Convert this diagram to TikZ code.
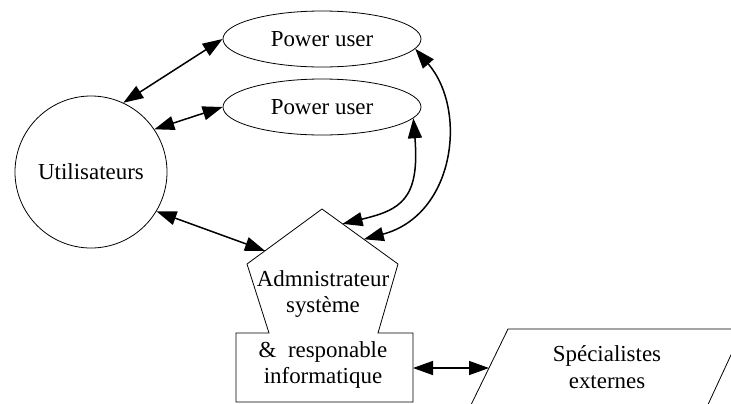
\documentclass[tikz,border=0pt]{standalone}
\usepackage{fontspec}
\setmainfont{Liberation Serif}
\usetikzlibrary{positioning,arrows.meta,calc,shapes.geometric}

\tikzset{
  forme/.style={draw,line width=0.8bp,inner sep=0pt},
  txt/.style={align=center,font=\fontsize{23}{27}\selectfont},
  lien/.style={line width=1.5bp,{Triangle[length=20bp,width=14bp]}-{Triangle[length=20bp,width=14bp]}},
}

\begin{document}
\begin{tikzpicture}[x=1bp,y=-1bp]
\useasboundingbox (0,0) rectangle (731,403);
\node[forme,circle,minimum size=152bp,txt] (users) at (91,172) {Utilisateurs};
\node[forme,ellipse,minimum width=198bp,minimum height=56bp,txt] (pu1) at (322,39) {Power user};
\node[forme,ellipse,minimum width=198bp,minimum height=56bp,txt] (pu2) at (322,107) {Power user};
\coordinate (pt) at (322,209);
\coordinate (pl) at (247,264);
\coordinate (pr) at (398,264);
\draw[line width=0.8bp] (236,333) -- (269,333) -- (pl) -- (pt) -- (pr) -- (378,333)
  -- (413,333) -- (413,402) -- (236,402) -- cycle;
\node[txt] (admin) at (323,294) {Admnistrateur\\système};
\node[txt] (resp) at (323,365) {\& \ responable\\informatique};
\draw[line width=0.8bp] (468,411) -- (508,329) -- (743,329) -- (705,411) -- cycle;
\node[txt] (spec) at (607,367) {Spécialistes\\externes};
\coordinate (a1) at ($(pt)!0.76!(pl)$);
\coordinate (a2) at ($(pt)!0.27!(pr)$);
\coordinate (a3) at ($(pt)!0.55!(pr)$);
\coordinate (rr) at (413,368);
\coordinate (pe) at (489,368);
\draw[lien] (users.65) -- (pu1.west);
\draw[lien] (users.34) -- (pu2.west);
\draw[lien] (users.-31) -- (a1);
\draw[lien] (pu2.-7) .. controls (420,200) and (400,210) .. (a2);
\draw[lien] (pu1.-6) .. controls (468,110) and (455,215) .. (a3);
\draw[lien] (rr) -- (pe);
\end{tikzpicture}
\end{document}
